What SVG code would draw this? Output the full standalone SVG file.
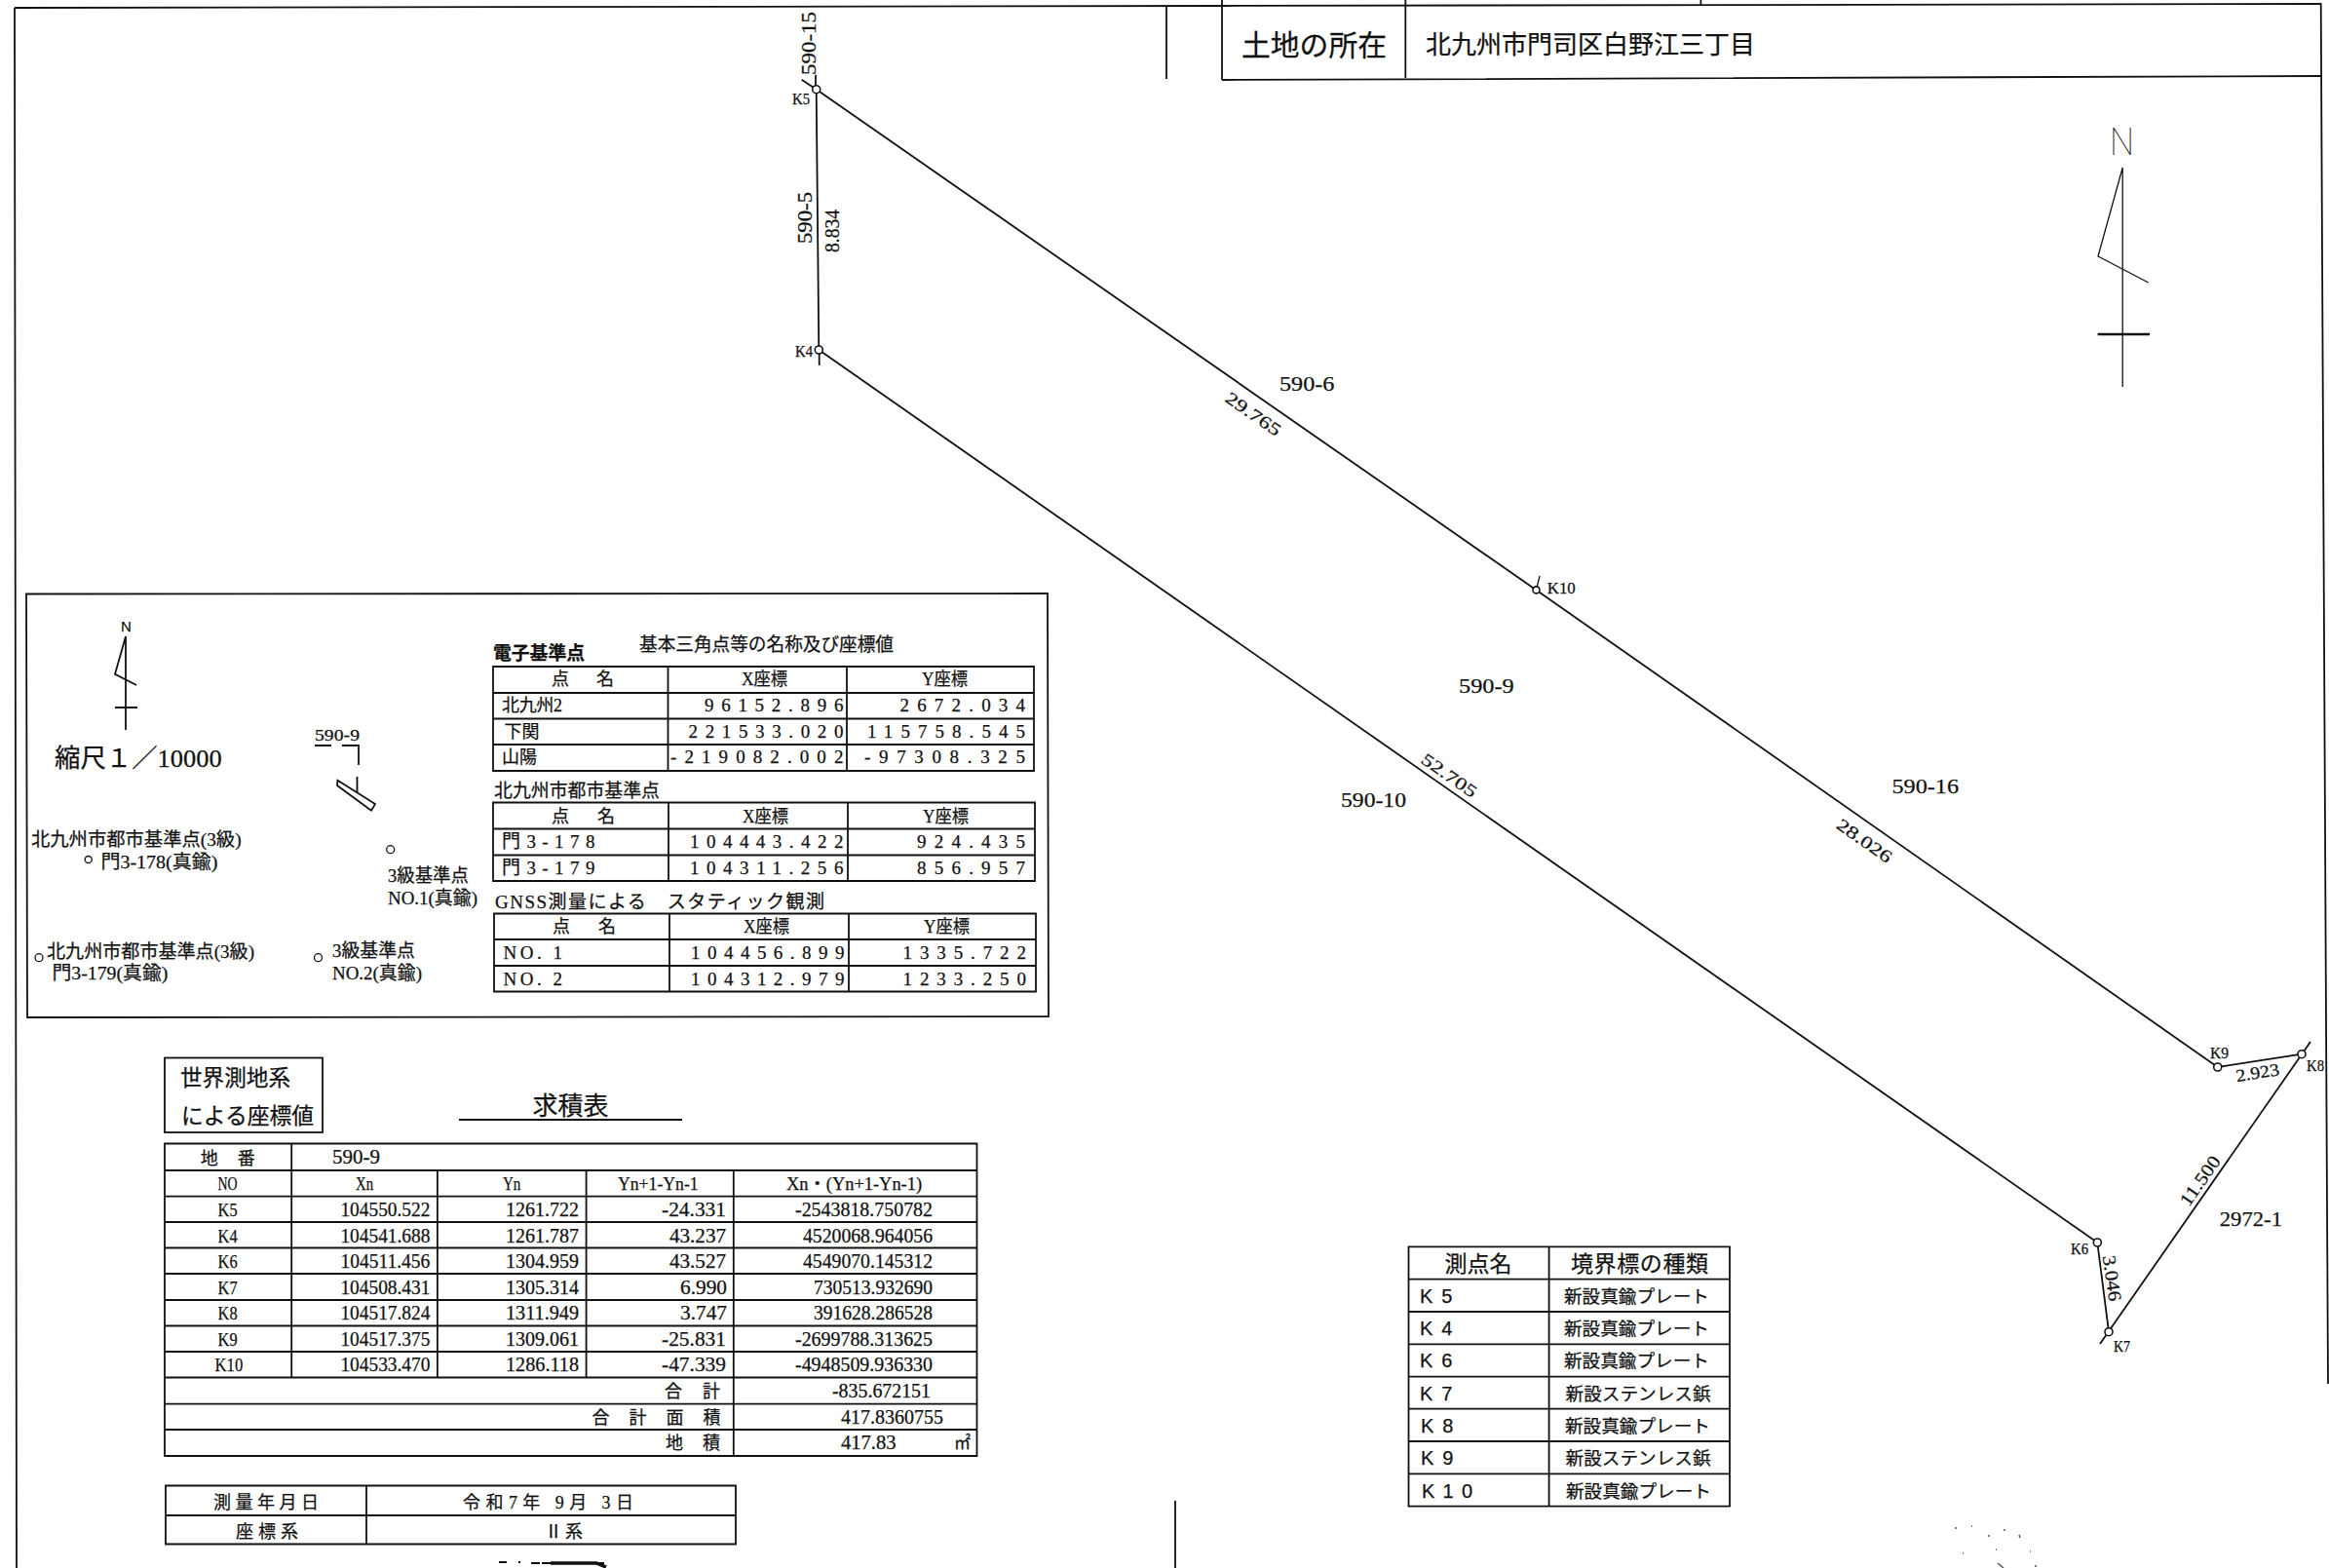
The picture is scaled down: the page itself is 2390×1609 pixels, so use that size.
<svg xmlns="http://www.w3.org/2000/svg" width="2390" height="1609" viewBox="0 0 2390 1609">
<style>
text{font-family:"Liberation Serif","Noto Sans CJK JP",serif;fill:#111;font-size:19px;stroke:#111;stroke-width:.25}
.sans{font-family:"Liberation Sans","Noto Sans CJK JP",sans-serif}
.l{stroke:#111;stroke-width:1.8;fill:none}
.t{stroke:#111;stroke-width:1.3;fill:none}
.pt{stroke:#111;stroke-width:1.6;fill:#fff}
.c{font-size:20px}
.h{font-size:18px}
.m{font-size:16px}
</style>
<rect width="2390" height="1609" fill="#fff"/>

<g id="frame">
<path class="l" d="M15 8L1254 6L2381.700 4L2387 1050L2389 1420M15 8L17 1609"/>
<path class="l" d="M1254 0V82M1442.300 0V80M1254 82L2381.700 78M1197 6V81M1745.400 0V5M1206 1540V1609"/>
<path d="M512 1603H520M532 1603H534M545 1604H620" stroke="#111" stroke-width="2" stroke-dasharray="9 2" fill="none"/>
<path d="M565 1604H612L622 1608" stroke="#111" stroke-width="3.500" fill="none"/>
<path d="M2006 1568h2M2023 1566h1M2040 1576h2M2056 1570h2M2072 1575l1 3M2014 1594h1M2048 1590h1M2083 1592h1M2050 1604l6 5M2088 1607h2" stroke="#555" stroke-width="1.500" fill="none"/>
</g>
<g id="location">
<text x="1274" y="57" style="font-size:30px" textLength="149" lengthAdjust="spacingAndGlyphs">土地の所在</text>
<text x="1463" y="55" style="font-size:26px" textLength="338" lengthAdjust="spacingAndGlyphs">北九州市門司区白野江三丁目</text>
</g>
<g id="north-main">
<path class="t" d="M2178.200 172V397M2178.200 172L2153 263L2204.700 290"/>
<path d="M2152.600 343H2206" stroke="#111" stroke-width="2.500"/>
<text x="2165" y="159" style="font-family:Roboto,sans-serif;font-size:38px;font-weight:100;stroke:none" textLength="25" lengthAdjust="spacingAndGlyphs">N</text>
</g>

<g id="connectors">
<path class="l" d="M837.700 91.700L840.300 359"/>
<path class="l" d="M837.700 91.700L1576.500 605.400L2275.700 1095"/>
<path class="l" d="M840.300 359L2152.300 1275"/>
<path class="l" d="M2275.700 1095L2362 1081.700"/>
<path class="l" d="M2371 1069L2155 1379"/>
<path class="l" d="M2152.300 1275L2164 1366.700"/>
</g>

<g id="K5"><path class="l" d="M822.700 81.700L837.700 91.700M837 76.700V91.700"/><circle class="pt" cx="837.700" cy="91.700" r="4"/><text x="813" y="106.700" class="m" textLength="18" lengthAdjust="spacingAndGlyphs">K5</text></g>
<g id="K4"><path class="l" d="M840.700 359V375"/><circle class="pt" cx="840.300" cy="359" r="4"/><text x="816" y="365.700" class="m" textLength="18" lengthAdjust="spacingAndGlyphs">K4</text></g>
<g id="K6"><circle class="pt" cx="2152.300" cy="1275" r="4"/><text x="2125" y="1287" class="m" textLength="18" lengthAdjust="spacingAndGlyphs">K6</text></g>
<g id="K7"><circle class="pt" cx="2164" cy="1366.700" r="4"/><text x="2169" y="1387" class="m" textLength="17" lengthAdjust="spacingAndGlyphs">K7</text></g>
<g id="K8"><circle class="pt" cx="2362" cy="1081.700" r="4"/><text x="2367" y="1099" class="m" textLength="18" lengthAdjust="spacingAndGlyphs">K8</text></g>
<g id="K9"><circle class="pt" cx="2275.700" cy="1095" r="4"/><text x="2268" y="1086" class="m" textLength="19" lengthAdjust="spacingAndGlyphs">K9</text></g>
<g id="K10"><path class="t" d="M1580 591L1576.500 605.400"/><circle class="pt" cx="1576.500" cy="605.400" r="3.500"/><text x="1587.800" y="608.600" class="m" textLength="29" lengthAdjust="spacingAndGlyphs">K10</text></g>

<g id="site-labels">
<text transform="translate(837 77) rotate(-90)" textLength="65" lengthAdjust="spacingAndGlyphs" style="font-size:21px">590-15</text>
<text transform="translate(832.700 250) rotate(-90)" textLength="53" lengthAdjust="spacingAndGlyphs" style="font-size:21px">590-5</text>
<text transform="translate(861 259) rotate(-90)" textLength="44" lengthAdjust="spacingAndGlyphs" style="font-size:20px">8.834</text>
<text x="1313" y="400.700" textLength="56.400" lengthAdjust="spacingAndGlyphs" style="font-size:21px">590-6</text>
<text x="1497" y="711.400" textLength="56.700" lengthAdjust="spacingAndGlyphs" style="font-size:21px">590-9</text>
<text x="1376" y="828" textLength="67" lengthAdjust="spacingAndGlyphs" style="font-size:21px">590-10</text>
<text x="1941.500" y="814" textLength="68.500" lengthAdjust="spacingAndGlyphs" style="font-size:21px">590-16</text>
<text x="2277.700" y="1258" textLength="64.300" lengthAdjust="spacingAndGlyphs" style="font-size:22px">2972-1</text>
<text transform="translate(1285.700 424.600) rotate(34.800)" x="-32" y="6" textLength="65" lengthAdjust="spacingAndGlyphs" style="font-size:18px">29.765</text>
<text transform="translate(1486.700 795.400) rotate(34.900)" x="-32" y="6" textLength="65" lengthAdjust="spacingAndGlyphs" style="font-size:18px">52.705</text>
<text transform="translate(1912.800 862.500) rotate(35)" x="-32" y="6" textLength="65" lengthAdjust="spacingAndGlyphs" style="font-size:18px">28.026</text>
<text transform="translate(2316.700 1100.700) rotate(-9)" x="-22.500" y="6" textLength="45" lengthAdjust="spacingAndGlyphs" style="font-size:18px">2.923</text>
<text transform="translate(2258 1211.700) rotate(-55)" x="-29" y="6" textLength="58" lengthAdjust="spacingAndGlyphs" style="font-size:19px">11.500</text>
<text transform="translate(2167 1311.700) rotate(82)" x="-23.500" y="6" textLength="47" lengthAdjust="spacingAndGlyphs" style="font-size:19px">3.046</text>
</g>

<g id="inset">
<path class="l" d="M27 609.500L1075 609L1076 1043L28 1044Z"/>
<path class="l" d="M129 653V749M129 653L118 691.700L140 703M118 726H141"/>
<text x="124" y="648" style="font-size:15px" class="sans">N</text>
<text x="56" y="787" style="font-size:26px" textLength="171.600" lengthAdjust="spacingAndGlyphs">縮尺１／10000</text>
<text x="323" y="760" style="font-size:17px" textLength="46" lengthAdjust="spacingAndGlyphs">590-9</text>
<path class="l" d="M323 765H340M351 765H368V785M366.500 797V813"/>
<path class="l" d="M346.500 800.700L385 825L381 831.700L346 806Z"/>
<circle class="t" cx="400.700" cy="871.700" r="4"/>
<text x="398" y="905" textLength="83" lengthAdjust="spacingAndGlyphs">3級基準点</text>
<text x="398" y="928" textLength="92" lengthAdjust="spacingAndGlyphs">NO.1(真鍮)</text>
<text x="32" y="868" textLength="215.600" lengthAdjust="spacingAndGlyphs">北九州市都市基準点(3級)</text>
<circle class="t" cx="90.700" cy="882" r="3.500"/>
<text x="103.400" y="891" textLength="120" lengthAdjust="spacingAndGlyphs">門3-178(真鍮)</text>
<circle class="t" cx="40" cy="982.700" r="4"/>
<text x="48" y="983" textLength="213" lengthAdjust="spacingAndGlyphs">北九州市都市基準点(3級)</text>
<text x="53.400" y="1005" textLength="119" lengthAdjust="spacingAndGlyphs">門3-179(真鍮)</text>
<circle class="t" cx="326.500" cy="982.700" r="4"/>
<text x="341" y="982" textLength="85" lengthAdjust="spacingAndGlyphs">3級基準点</text>
<text x="341" y="1005" textLength="92" lengthAdjust="spacingAndGlyphs">NO.2(真鍮)</text>
</g>

<g id="control-points">
<text x="506" y="677" textLength="94" lengthAdjust="spacingAndGlyphs" style="font-weight:700">電子基準点</text>
<text x="656" y="668" textLength="261" lengthAdjust="spacingAndGlyphs">基本三角点等の名称及び座標値</text>
<path class="l" d="M506 684H1061V791H506ZM506 711H1061M506 737.500H1061M506 764H1061M685.500 684V791M869 684V791"/>
<text x="566" y="703" class="h" textLength="64">点　名</text>
<text x="761" y="703" class="h" textLength="47" lengthAdjust="spacingAndGlyphs">X座標</text>
<text x="946" y="703" class="h" textLength="47" lengthAdjust="spacingAndGlyphs">Y座標</text>
<text x="515" y="730" class="h" textLength="62">北九州2</text>
<text x="723" y="730" textLength="142.400">96152.896</text>
<text x="923.500" y="730" textLength="128.500">2672.034</text>
<text x="517.500" y="757" class="h">下関</text>
<text x="706.500" y="757" textLength="158.900">221533.020</text>
<text x="890" y="757" textLength="162">115758.545</text>
<text x="515" y="783" class="h">山陽</text>
<text x="688" y="783" textLength="177.400">-219082.002</text>
<text x="887" y="783" textLength="165">-97308.325</text>

<text x="507" y="818" textLength="170" lengthAdjust="spacingAndGlyphs">北九州市都市基準点</text>
<path class="l" d="M506 823.500H1062V904H506ZM506 850.500H1062M506 877.500H1062M686 823.500V904M870 823.500V904"/>
<text x="566" y="844" class="h" textLength="65">点　名</text>
<text x="762" y="844" class="h" textLength="47" lengthAdjust="spacingAndGlyphs">X座標</text>
<text x="947" y="844" class="h" textLength="47" lengthAdjust="spacingAndGlyphs">Y座標</text>
<text x="515" y="870" textLength="95.400">門3-178</text>
<text x="708" y="870" textLength="157.400">104443.422</text>
<text x="941" y="870" textLength="111">924.435</text>
<text x="515" y="897" textLength="95.400">門3-179</text>
<text x="708" y="897" textLength="157.400">104311.256</text>
<text x="941" y="897" textLength="111">856.957</text>

<text x="508" y="932" textLength="338">GNSS測量による　スタティック観測</text>
<path class="l" d="M507 937.500H1063V1017.500H507ZM507 964H1063M507 991H1063M687 937.500V1017.500M871 937.500V1017.500"/>
<text x="567" y="957" class="h" textLength="65">点　名</text>
<text x="763" y="957" class="h" textLength="47" lengthAdjust="spacingAndGlyphs">X座標</text>
<text x="948" y="957" class="h" textLength="47" lengthAdjust="spacingAndGlyphs">Y座標</text>
<text x="516.400" y="984" textLength="60.600">NO. 1</text>
<text x="709" y="984" textLength="157.500">104456.899</text>
<text x="926.600" y="984" textLength="126.400">1335.722</text>
<text x="516.400" y="1011" textLength="60.600">NO. 2</text>
<text x="709" y="1011" textLength="157.500">104312.979</text>
<text x="926.600" y="1011" textLength="126.400">1233.250</text>
</g>

<g id="area-table">
<rect class="l" x="169" y="1085.500" width="162" height="76.500"/>
<text x="185" y="1114" style="font-size:23px" textLength="113" lengthAdjust="spacingAndGlyphs">世界測地系</text>
<text x="186" y="1153" style="font-size:23px" textLength="136" lengthAdjust="spacingAndGlyphs">による座標値</text>
<text x="546.400" y="1144" style="font-size:26px" textLength="78" lengthAdjust="spacingAndGlyphs">求積表</text>
<path class="l" d="M471 1149H700"/>
<path class="l" d="M169 1173.500H1002.500V1494H169ZM169 1201H1002.500M169 1227.600H1002.500M169 1254H1002.500M169 1280.500H1002.500M169 1307H1002.500M169 1334H1002.500M169 1360.500H1002.500M169 1387H1002.500M169 1413.500H1002.500M169 1440.700H1002.500M169 1467H1002.500"/>
<path class="l" d="M299.200 1173.500V1413.500M448.900 1201V1413.500M601.600 1201V1413.500M752.800 1201V1494"/>
<text x="205.700" y="1195" class="h" textLength="56">地　番</text>
<text x="341" y="1194" class="c" textLength="49" lengthAdjust="spacingAndGlyphs">590-9</text>
<text x="223.600" y="1221" class="h" textLength="20" lengthAdjust="spacingAndGlyphs">NO</text>
<text x="365" y="1221" class="h" textLength="18" lengthAdjust="spacingAndGlyphs">Xn</text>
<text x="516" y="1221" class="h" textLength="18.400" lengthAdjust="spacingAndGlyphs">Yn</text>
<text x="634" y="1221" class="h" textLength="82.600" lengthAdjust="spacingAndGlyphs">Yn+1-Yn-1</text>
<text x="807" y="1221" class="h" textLength="139" lengthAdjust="spacingAndGlyphs">Xn・(Yn+1-Yn-1)</text>

<text x="223.600" y="1248" class="h" textLength="20" lengthAdjust="spacingAndGlyphs">K5</text>
<text x="349.400" y="1248" class="c" textLength="92" lengthAdjust="spacingAndGlyphs">104550.522</text>
<text x="519" y="1248" class="c" textLength="75" lengthAdjust="spacingAndGlyphs">1261.722</text>
<text x="679" y="1248" class="c" textLength="66" lengthAdjust="spacingAndGlyphs">-24.331</text>
<text x="816" y="1248" class="c" textLength="141" lengthAdjust="spacingAndGlyphs">-2543818.750782</text>

<text x="223.600" y="1275" class="h" textLength="20" lengthAdjust="spacingAndGlyphs">K4</text>
<text x="349.400" y="1275" class="c" textLength="92" lengthAdjust="spacingAndGlyphs">104541.688</text>
<text x="519" y="1275" class="c" textLength="75" lengthAdjust="spacingAndGlyphs">1261.787</text>
<text x="687" y="1275" class="c" textLength="58" lengthAdjust="spacingAndGlyphs">43.237</text>
<text x="824" y="1275" class="c" textLength="133" lengthAdjust="spacingAndGlyphs">4520068.964056</text>

<text x="223.600" y="1301" class="h" textLength="20" lengthAdjust="spacingAndGlyphs">K6</text>
<text x="349.400" y="1301" class="c" textLength="92" lengthAdjust="spacingAndGlyphs">104511.456</text>
<text x="519" y="1301" class="c" textLength="75" lengthAdjust="spacingAndGlyphs">1304.959</text>
<text x="687" y="1301" class="c" textLength="58" lengthAdjust="spacingAndGlyphs">43.527</text>
<text x="824" y="1301" class="c" textLength="133" lengthAdjust="spacingAndGlyphs">4549070.145312</text>

<text x="223.600" y="1328" class="h" textLength="20" lengthAdjust="spacingAndGlyphs">K7</text>
<text x="349.400" y="1328" class="c" textLength="92" lengthAdjust="spacingAndGlyphs">104508.431</text>
<text x="519" y="1328" class="c" textLength="75" lengthAdjust="spacingAndGlyphs">1305.314</text>
<text x="698" y="1328" class="c" textLength="48" lengthAdjust="spacingAndGlyphs">6.990</text>
<text x="835" y="1328" class="c" textLength="122" lengthAdjust="spacingAndGlyphs">730513.932690</text>

<text x="223.600" y="1354" class="h" textLength="20" lengthAdjust="spacingAndGlyphs">K8</text>
<text x="349.400" y="1354" class="c" textLength="92" lengthAdjust="spacingAndGlyphs">104517.824</text>
<text x="519" y="1354" class="c" textLength="75" lengthAdjust="spacingAndGlyphs">1311.949</text>
<text x="698" y="1354" class="c" textLength="48" lengthAdjust="spacingAndGlyphs">3.747</text>
<text x="835" y="1354" class="c" textLength="122" lengthAdjust="spacingAndGlyphs">391628.286528</text>

<text x="223.600" y="1381" class="h" textLength="20" lengthAdjust="spacingAndGlyphs">K9</text>
<text x="349.400" y="1381" class="c" textLength="92" lengthAdjust="spacingAndGlyphs">104517.375</text>
<text x="519" y="1381" class="c" textLength="75" lengthAdjust="spacingAndGlyphs">1309.061</text>
<text x="679" y="1381" class="c" textLength="66" lengthAdjust="spacingAndGlyphs">-25.831</text>
<text x="816" y="1381" class="c" textLength="141" lengthAdjust="spacingAndGlyphs">-2699788.313625</text>

<text x="220.600" y="1407" class="h" textLength="28.600" lengthAdjust="spacingAndGlyphs">K10</text>
<text x="349.400" y="1407" class="c" textLength="92" lengthAdjust="spacingAndGlyphs">104533.470</text>
<text x="519" y="1407" class="c" textLength="75" lengthAdjust="spacingAndGlyphs">1286.118</text>
<text x="679" y="1407" class="c" textLength="66" lengthAdjust="spacingAndGlyphs">-47.339</text>
<text x="816" y="1407" class="c" textLength="141" lengthAdjust="spacingAndGlyphs">-4948509.936330</text>

<text x="682" y="1434" class="h" textLength="57">合　計</text>
<text x="854" y="1434" class="c" textLength="101" lengthAdjust="spacingAndGlyphs">-835.672151</text>
<text x="607.600" y="1461" class="h" textLength="132">合　計　面　積</text>
<text x="863" y="1461" class="c" textLength="105" lengthAdjust="spacingAndGlyphs">417.8360755</text>
<text x="683" y="1487" class="h" textLength="56">地　積</text>
<text x="863" y="1487" class="c" textLength="56.600" lengthAdjust="spacingAndGlyphs">417.83</text>
<text x="979" y="1487" class="h" textLength="17" lengthAdjust="spacingAndGlyphs">㎡</text>
</g>

<g id="survey-date">
<path class="l" d="M170 1524.500H755V1584.500H170ZM170 1555H755M376 1524.500V1584.500"/>
<text x="219" y="1547.500" class="h" textLength="108">測量年月日</text>
<text x="475" y="1547.500" class="h" textLength="175">令和7年 9月 3日</text>
<text x="242" y="1578" class="h" textLength="64">座標系</text>
<text x="559" y="1578" class="h" textLength="39">Ⅱ系</text>
</g>

<g id="marker-table">
<path class="l" d="M1445.500 1279.300H1775V1545.700H1445.500ZM1445.500 1312.700H1775M1445.500 1346H1775M1445.500 1379.300H1775M1445.500 1412.700H1775M1445.500 1445.700H1775M1445.500 1479H1775M1445.500 1512.300H1775M1589.600 1279.300V1545.700"/>
<text x="1482.500" y="1305" style="font-size:23px" textLength="69">測点名</text>
<text x="1612" y="1305" style="font-size:23px" textLength="141">境界標の種類</text>
<text x="1457" y="1337" class="c sans" textLength="33.400">K5</text>
<text x="1605" y="1337" class="h" textLength="149" lengthAdjust="spacingAndGlyphs">新設真鍮プレート</text>
<text x="1457" y="1370" class="c sans" textLength="33.400">K4</text>
<text x="1605" y="1370" class="h" textLength="149" lengthAdjust="spacingAndGlyphs">新設真鍮プレート</text>
<text x="1457" y="1403" class="c sans" textLength="33.400">K6</text>
<text x="1605" y="1403" class="h" textLength="149" lengthAdjust="spacingAndGlyphs">新設真鍮プレート</text>
<text x="1457" y="1437" class="c sans" textLength="33.400">K7</text>
<text x="1606.600" y="1437" class="h" textLength="149" lengthAdjust="spacingAndGlyphs">新設ステンレス鋲</text>
<text x="1458" y="1470" class="c sans" textLength="33.400">K8</text>
<text x="1606" y="1470" class="h" textLength="149" lengthAdjust="spacingAndGlyphs">新設真鍮プレート</text>
<text x="1458" y="1503" class="c sans" textLength="33.400">K9</text>
<text x="1606.600" y="1503" class="h" textLength="149" lengthAdjust="spacingAndGlyphs">新設ステンレス鋲</text>
<text x="1459" y="1537" class="c sans" textLength="52">K10</text>
<text x="1607" y="1537" class="h" textLength="149" lengthAdjust="spacingAndGlyphs">新設真鍮プレート</text>
</g>
</svg>
